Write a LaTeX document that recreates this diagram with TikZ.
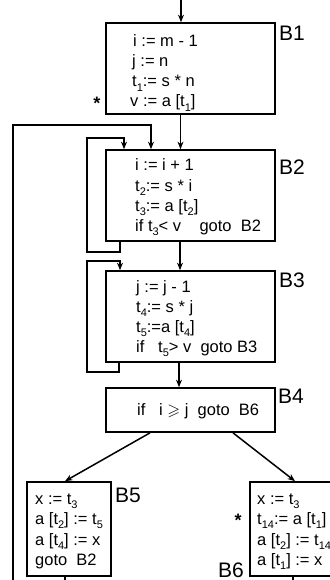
\documentclass[tikz,border=0pt]{standalone}
\usepackage{amssymb}
\usepackage{fontspec}
\setmainfont{Liberation Sans}
\usetikzlibrary{arrows.meta}
\newcommand\lo[1]{\raisebox{-0.5ex}{\fontsize{11}{11}\selectfont #1}}
\tikzset{
  blk/.style={draw, line width=1.7pt, inner sep=0pt},
  conn/.style={line width=1.5pt, -{Stealth[length=7.5pt,width=6pt]}},
  ln/.style={line width=1.5pt},
  code/.style={anchor=base west, inner sep=0pt, font=\fontsize{16.5}{20}\selectfont},
  lbl/.style={anchor=base west, inner sep=0pt, font=\fontsize{21}{24}\selectfont},
  star/.style={inner sep=0pt, font=\fontsize{18}{18}\selectfont\bfseries}
}
\begin{document}
\begin{tikzpicture}[x=1pt,y=-1pt]
\useasboundingbox (0,0) rectangle (329,580);
% boxes
\node[blk, minimum width=169pt, minimum height=91pt] (b1) at (190.5,68.5) {};
\node[blk, minimum width=169pt, minimum height=91pt] (b2) at (190.5,195.5) {};
\node[blk, minimum width=169pt, minimum height=91pt] (b3) at (190.5,316.5) {};
\node[blk, minimum width=169pt, minimum height=44pt] (b4) at (190.5,410) {};
\node[blk, minimum width=84pt, minimum height=94pt] (b5) at (69,529) {};
\node[blk, minimum width=90pt, minimum height=94pt] (b6) at (295,529) {};
% labels
\node[lbl] (l1) at (279,41) {B1};
\node[lbl] (l2) at (279,174) {B2};
\node[lbl] (l3) at (279,287) {B3};
\node[lbl] (l4) at (278,403) {B4};
\node[lbl] (l5) at (115,502) {B5};
\node[lbl] (l6) at (218,577) {B6};
\node[star] (s1) at (97,103) {*};
\node[star] (s6) at (238,520) {*};
% B1 code
\node[code] (c11) at (133,47) {i := m - 1};
\node[code] (c12) at (132,67) {j := n};
\node[code] (c13) at (132,87) {t\lo{1}:= s * n};
\node[code] (c14) at (130,107) {v := a [t\lo{1}]};
% B2 code
\node[code] (c21) at (135,171) {i := i + 1};
\node[code] (c22) at (135,191) {t\lo{2}:= s * i};
\node[code] (c23) at (135,211) {t\lo{3}:= a [t\lo{2}]};
\node[code] (c24) at (135,231) {if t\lo{3}< v\ \ \ \ goto\ \ B2};
% B3 code
\node[code] (c31) at (136,292) {j := j - 1};
\node[code] (c32) at (136,312) {t\lo{4}:= s * j};
\node[code] (c33) at (136,332) {t\lo{5}:=a [t\lo{4}]};
\node[code] (c34) at (136,352) {if\ \ \ t\lo{5}> v\ \ goto B3};
% B4 code
\node[code] (c41) at (137,415) {if\ \ \ i $\geqslant$ j\ \ goto\ \ B6};
% B5 code
\node[code] (c51) at (35,504) {x := t\lo{3}};
\node[code] (c52) at (35,524) {a [t\lo{2}] := t\lo{5}};
\node[code] (c53) at (35,545) {a [t\lo{4}] := x};
\node[code] (c54) at (35,565) {goto\ \ B2};
% B6 code
\node[code] (c61) at (257,504) {x := t\lo{3}};
\node[code] (c62) at (257,524) {t\lo{14}:= a [t\lo{1}]};
\node[code] (c63) at (257,545) {a [t\lo{2}] := t\lo{14}};
\node[code] (c64) at (257,565) {a [t\lo{1}] := x};
% connectors
\coordinate (top) at (181,0);
\draw[conn] (top) -- (top |- b1.north);
\draw[conn] ([xshift=-10pt]b1.south) -- ([xshift=-10pt]b2.north);
\coordinate (ob) at (13,580);
\draw[conn] (ob) |- (151,125) -- ([xshift=-39.5pt]b2.north);
\draw[conn] ([xshift=-70.5pt]b2.south) |- (87,252) |- (124,138) -- ([xshift=-66.5pt]b2.north);
\draw[conn] ([xshift=-10.5pt]b2.south) -- ([xshift=-10.5pt]b3.north);
\draw[conn] ([xshift=-71.5pt]b3.south) |- (87,372) |- (120,261) -- ([xshift=-70.5pt]b3.north);
\draw[conn] ([xshift=-11.5pt]b3.south) -- ([xshift=-11.5pt]b4.north);
\draw[conn] ([xshift=-40.5pt]b4.south) -- ([xshift=-4pt]b5.north);
\draw[conn] ([xshift=42.5pt]b4.south) -- (b6.north);
\coordinate (e5) at (65,580);
\coordinate (e6) at (293,580);
\draw[ln] ([xshift=-4pt]b5.south) -- (e5);
\draw[ln] ([xshift=-2pt]b6.south) -- (e6);
\end{tikzpicture}
\end{document}
